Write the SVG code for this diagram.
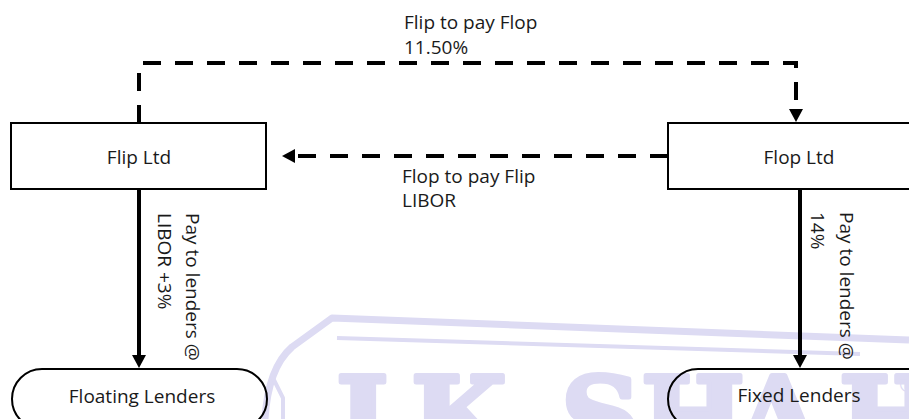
<svg xmlns="http://www.w3.org/2000/svg" width="909" height="419" viewBox="0 0 909 419">
  <style>
    .box { fill: #ffffff; stroke: #000000; stroke-width: 2; }
    .term { fill: none; stroke: #000000; stroke-width: 2; }
    .label { font-family: "Open Sans", "Liberation Sans", sans-serif; font-size: 19px; fill: #1a1a1a; }
    .mid { text-anchor: middle; }
    .flow { fill: none; stroke: #000000; stroke-width: 4; }
    .swap { fill: none; stroke: #000000; stroke-width: 4; stroke-dasharray: 18 14; }
    .wm { fill: none; stroke: #dddbf3; stroke-linejoin: round; }
    .wmtext { font-family: "DejaVu Serif", serif; font-weight: bold; font-size: 110px; fill: #dddbf3; stroke: #dddbf3; stroke-width: 5; stroke-linejoin: round; }
  </style>
  <defs>
    <marker id="head" markerUnits="userSpaceOnUse" markerWidth="14" markerHeight="14" refX="0" refY="7" orient="auto">
      <path d="M0,0 L13,7 L0,14 z" fill="#000000"/>
    </marker>
  </defs>

  <rect width="909" height="419" fill="#ffffff"/>

  <!-- background mark -->
  <g id="watermark">
    <path class="wm" stroke-width="7" d="M909,340 L332,318 L292,347 Q268,368 265,419"/>
    <path class="wm" stroke-width="4" d="M860,354 L337,338"/>
    <path class="wm" stroke-width="4" d="M272,376 L283,398 L283,419"/>
    <text class="wmtext" y="456"><tspan x="336">J</tspan><tspan x="411">K</tspan><tspan x="561">S</tspan><tspan x="641">H</tspan><tspan x="736">A</tspan><tspan x="839">H</tspan></text>
    <text x="897" y="392" font-family="DejaVu Sans, sans-serif" font-size="22" fill="#dddbf3">®</text>
  </g>

  <!-- connectors -->
  <g id="connectors">
    <path class="swap" d="M139,123 V63 H796 V109" marker-end="url(#head)"/>
    <path class="swap" d="M668,156 H295" marker-end="url(#head)"/>
    <path class="flow" d="M139,189 V355" marker-end="url(#head)"/>
    <path class="flow" d="M800,189 V355" marker-end="url(#head)"/>
  </g>

  <!-- connector labels -->
  <g id="labels">
    <text class="label" x="404" y="29"><tspan x="404">Flip to pay Flop</tspan><tspan x="404" dy="24.5">11.50%</tspan></text>
    <text class="label" x="402" y="183"><tspan x="402">Flop to pay Flip</tspan><tspan x="402" dy="23.5">LIBOR</tspan></text>
    <text class="label" transform="translate(186,213) rotate(90)"><tspan x="0" y="0">Pay to lenders @</tspan><tspan x="0" y="28.5">LIBOR +3%</tspan></text>
    <text class="label" transform="translate(839.5,212) rotate(90)"><tspan x="0" y="0">Pay to lenders @</tspan><tspan x="0" y="28.5">14%</tspan></text>
  </g>

  <!-- nodes -->
  <g id="flip">
    <rect class="box" x="11" y="123" width="255" height="66"/>
    <text class="label mid" x="139" y="164">Flip Ltd</text>
  </g>
  <g id="flop">
    <rect class="box" x="668" y="123" width="260" height="66"/>
    <text class="label mid" x="799" y="164">Flop Ltd</text>
  </g>
  <g id="floating-lenders">
    <rect class="term" x="12" y="369" width="255" height="60" rx="30" ry="30"/>
    <text class="label mid" x="142" y="403">Floating Lenders</text>
  </g>
  <g id="fixed-lenders">
    <rect class="term" x="668" y="369" width="270" height="60" rx="30" ry="30"/>
    <text class="label mid" x="799" y="402">Fixed Lenders</text>
  </g>
</svg>
